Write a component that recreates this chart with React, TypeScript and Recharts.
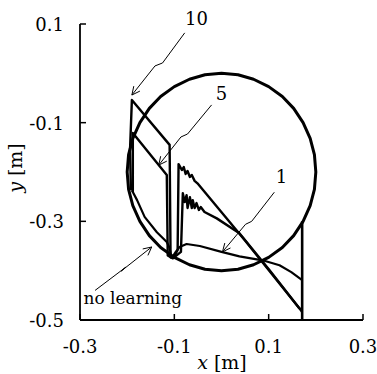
import { LineChart, Line, XAxis, YAxis, ReferenceDot } from "recharts";

type Pt = [number, number];

// desired path: circle of radius 0.2 m about (0, -0.2), every 10 deg
const circlePath: Pt[] = [
    [0.2, -0.2], [0.197, -0.165], [0.188, -0.132], [0.173, -0.1],
    [0.153, -0.071], [0.129, -0.047], [0.1, -0.027], [0.068, -0.012],
    [0.035, -0.003], [0, 0], [-0.035, -0.003], [-0.068, -0.012],
    [-0.1, -0.027], [-0.129, -0.047], [-0.153, -0.071], [-0.173, -0.1],
    [-0.188, -0.132], [-0.197, -0.165], [-0.2, -0.2], [-0.197, -0.235],
    [-0.188, -0.268], [-0.173, -0.3], [-0.153, -0.329], [-0.129, -0.353],
    [-0.1, -0.373], [-0.068, -0.388], [-0.035, -0.397], [0, -0.4],
    [0.035, -0.397], [0.068, -0.388], [0.1, -0.373], [0.129, -0.353],
    [0.153, -0.329], [0.173, -0.3], [0.188, -0.268], [0.197, -0.235],
    [0.2, -0.2],
];

const wallPath: Pt[] = [[0.171, -0.3], [0.171, -0.5]];

const trial10: Pt[] = [
    [-0.192, -0.237], [-0.194, -0.156], [-0.19, -0.054], [-0.11, -0.145],
    [-0.108, -0.373], [-0.099, -0.369], [-0.093, -0.358], [-0.091, -0.184],
    [-0.084, -0.196], [-0.08, -0.19], [-0.076, -0.204], [-0.072, -0.198],
    [-0.067, -0.21], [-0.063, -0.206], [-0.057, -0.218], [-0.051, -0.223],
    [0.049, -0.338], [0.165, -0.476], [0.171, -0.48],
];

const trial5: Pt[] = [
    [-0.188, -0.241], [-0.188, -0.121], [-0.116, -0.206], [-0.114, -0.369],
    [-0.103, -0.375], [-0.086, -0.362], [-0.082, -0.243], [-0.078, -0.261],
    [-0.074, -0.247], [-0.072, -0.273], [-0.067, -0.251], [-0.063, -0.273],
    [-0.061, -0.257], [-0.057, -0.273], [-0.053, -0.263], [-0.048, -0.277],
    [-0.044, -0.271], [-0.036, -0.281], [-0.01, -0.294], [0.038, -0.324],
    [0.102, -0.399], [0.165, -0.476], [0.171, -0.484],
];

const trial1: Pt[] = [
    [-0.106, -0.375], [-0.097, -0.362], [-0.089, -0.352], [-0.074, -0.346],
    [-0.046, -0.35], [0, -0.362], [0.038, -0.371], [0.087, -0.379],
    [0.123, -0.389], [0.148, -0.403], [0.171, -0.419],
];

const noLearning: Pt[] = [
    [-0.19, -0.237], [-0.179, -0.257], [-0.163, -0.291], [-0.137, -0.322],
    [-0.116, -0.342], [-0.11, -0.354], [-0.106, -0.375],
];

// callout leaders (with the little zigzag) and their arrow heads
const leaders: Pt[][] = [
    [[-0.078, 0.082], [-0.125, 0.021], [-0.141, 0.015], [-0.19, -0.044]],
    [[-0.021, -0.064], [-0.072, -0.123], [-0.086, -0.129], [-0.133, -0.186]],
    [[0.112, -0.241], [0.064, -0.3], [0.051, -0.306], [0.002, -0.362]],
    [[-0.268, -0.44], [-0.203, -0.393], [-0.213, -0.401], [-0.148, -0.352]],
];
const heads: Pt[][] = [
    [[-0.173, -0.036], [-0.19, -0.044], [-0.186, -0.026]],
    [[-0.116, -0.178], [-0.133, -0.186], [-0.129, -0.168]],
    [[0.019, -0.354], [0.002, -0.362], [0.007, -0.344]],
    [[-0.167, -0.356], [-0.148, -0.352], [-0.156, -0.369]],
];

const notes = [
    { text: "10", x: -0.053, y: 0.098 },
    { text: "5", x: 0.0, y: -0.054 },
    { text: "1", x: 0.127, y: -0.223 },
    { text: "no learning", x: -0.188, y: -0.468 },
];

const xTicks = [-0.3, -0.1, 0.1, 0.3];
const yTicks = [-0.5, -0.3, -0.1, 0.1];

const FONT = '"DejaVu Serif", "Liberation Serif", "Noto Serif", "Times New Roman", Times, serif';
const txt = { fontFamily: FONT };

const rows = (pts: Pt[]) => pts.map(([x, y]) => ({ x, y }));

function XTick({ x, y, payload }: any) {
    return (
        <g>
            <line x1={x} y1={y} x2={x} y2={y - 6} stroke="#000" strokeWidth={1.5} />
            <text x={x} y={y + 33} textAnchor="middle" style={txt} fontSize={18} fill="#000">
                {payload.value}
            </text>
        </g>
    );
}

function YTick({ x, y, payload }: any) {
    return (
        <g>
            <line x1={x} y1={y} x2={x + 6} y2={y} stroke="#000" strokeWidth={1.5} />
            <text x={x - 16} y={y + 7} textAnchor="end" style={txt} fontSize={18} fill="#000">
                {payload.value}
            </text>
        </g>
    );
}

const xTitle = () => (
    <text x={222} y={369} textAnchor="middle" style={txt} fontSize={19} fill="#000">
        <tspan fontStyle="italic">x</tspan>
        <tspan dx={6}>[m]</tspan>
    </text>
);

const yTitle = () => (
    <text
        x={22}
        y={168}
        transform="rotate(-90 22 168)"
        textAnchor="middle"
        style={txt}
        fontSize={19}
        fill="#000"
    >
        <tspan fontStyle="italic">y</tspan>
        <tspan dx={6}>[m]</tspan>
    </text>
);

function path(key: string, pts: Pt[], width: number) {
    return (
        <Line
            key={key}
            data={rows(pts)}
            dataKey="y"
            type="linear"
            stroke="#000"
            strokeWidth={width}
            strokeLinejoin="round"
            dot={false}
            activeDot={false}
            isAnimationActive={false}
        />
    );
}

export default function App() {
    return (
        <div
            style={{
                position: "absolute",
                left: 0,
                top: 0,
                width: 377,
                height: 374,
                background: "#fff",
                fontFamily: FONT,
            }}
        >
            <LineChart width={377} height={374} margin={{ top: 24, right: 14, bottom: 14, left: 0 }}>
                <XAxis
                    type="number"
                    dataKey="x"
                    domain={[-0.3, 0.3]}
                    ticks={xTicks}
                    allowDataOverflow
                    height={40}
                    tickSize={0}
                    tickMargin={0}
                    tick={<XTick />}
                    axisLine={{ stroke: "#000", strokeWidth: 1.8 }}
                    label={xTitle}
                />
                <YAxis
                    type="number"
                    domain={[-0.5, 0.1]}
                    ticks={yTicks}
                    allowDataOverflow
                    width={80}
                    tickSize={0}
                    tickMargin={0}
                    tick={<YTick />}
                    axisLine={{ stroke: "#000", strokeWidth: 1.8 }}
                    label={yTitle}
                />
                {path("circle", circlePath, 3)}
                {path("wall", wallPath, 2.6)}
                {path("t10", trial10, 2.4)}
                {path("t5", trial5, 2.4)}
                {path("t1", trial1, 2.2)}
                {path("nl", noLearning, 2.2)}
                {leaders.map((pts, i) => path(`lead${i}`, pts, 1))}
                {heads.map((pts, i) => path(`head${i}`, pts, 1))}
                {notes.map((n) => (
                    <ReferenceDot
                        key={n.text}
                        x={n.x}
                        y={n.y}
                        r={0}
                        shape={(p: any) => (
                            <text
                                x={p.cx}
                                y={p.cy}
                                textAnchor="middle"
                                style={txt}
                                fontSize={n.text.length > 2 ? 17 : 18}
                                fill="#000"
                            >
                                {n.text}
                            </text>
                        )}
                    />
                ))}
            </LineChart>
        </div>
    );
}
